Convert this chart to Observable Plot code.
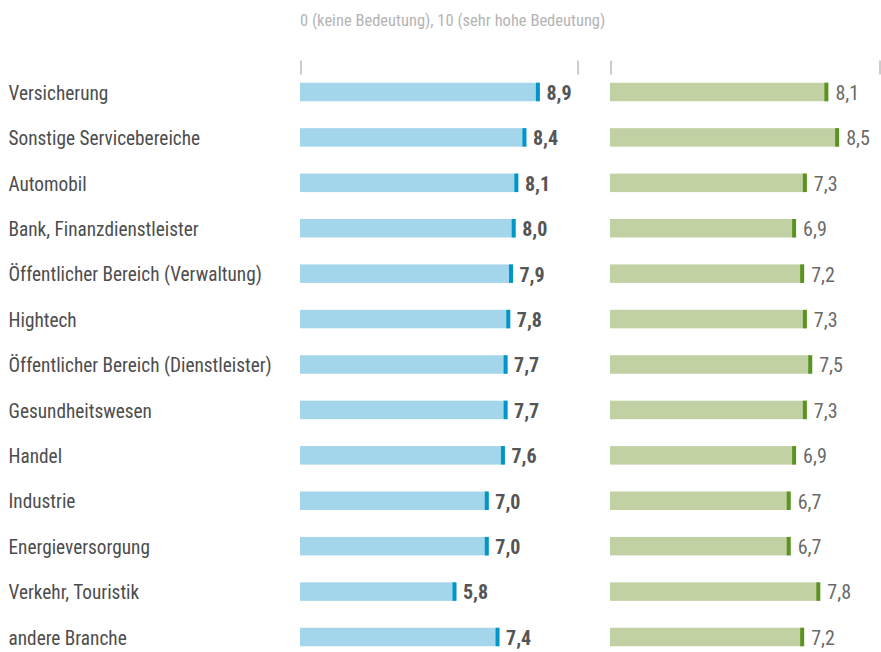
<!DOCTYPE html>
<html><head><meta charset="utf-8">
<script src="https://cdn.jsdelivr.net/npm/d3@7"></script>
<script src="https://cdn.jsdelivr.net/npm/@observablehq/plot@0.6"></script>
<style>
body{margin:0;background:#fff;font-family:"Liberation Sans Narrow","Roboto Condensed","DejaVu Sans Condensed",sans-serif;}
#header{position:relative;height:37px;}
#header span{position:absolute;left:300px;top:13px;font-size:16.5px;line-height:16px;color:#b4b4b4;white-space:nowrap;}
</style></head><body>
<div id="header"><span id="htext"></span></div>
<div id="chart"></div>
<script>
const headerText = "0 (keine Bedeutung), 10 (sehr hohe Bedeutung)";
const categories = ["Versicherung","Sonstige Servicebereiche","Automobil","Bank, Finanzdienstleister","Öffentlicher Bereich (Verwaltung)","Hightech","Öffentlicher Bereich (Dienstleister)","Gesundheitswesen","Handel","Industrie","Energieversorgung","Verkehr, Touristik","andere Branche"];
const leftValues = [8.9, 8.4, 8.1, 8.0, 7.9, 7.8, 7.7, 7.7, 7.6, 7.0, 7.0, 5.8, 7.4];
const rightValues = [8.1, 8.5, 7.3, 6.9, 7.2, 7.3, 7.5, 7.3, 6.9, 6.7, 6.7, 7.8, 7.2];
const panels = ["links", "rechts"];
const tickValuesLeft = [0, 10.3];
const tickValuesRight = [0, 10];

document.getElementById("htext").textContent = headerText;

const L = categories.map((c, i) => ({panel: "links", category: c, value: leftValues[i]}));
const R = categories.map((c, i) => ({panel: "rechts", category: c, value: rightValues[i]}));
const ticks = [...tickValuesLeft.map(v => ({panel: "links", v})), ...tickValuesRight.map(v => ({panel: "rechts", v}))];
const fmt = v => v.toFixed(1).replace(".", ",");
const font = '"Liberation Sans Narrow","Roboto Condensed","DejaVu Sans Condensed",sans-serif';

const plot = Plot.plot({
  width: 881, height: 615,
  marginLeft: 300, marginRight: 2, marginTop: 45.75, marginBottom: 5.75,
  style: {fontFamily: font, background: "#fff"},
  fx: {domain: panels, axis: null, paddingInner: 0.1323, paddingOuter: 0, round: false},
  x: {domain: [0, 10], axis: null},
  y: {domain: categories, axis: null, paddingInner: 0.593, paddingOuter: 0, round: false},
  marks: [
    Plot.barX(L, {fx: "panel", y: "category", x: "value", fill: "#a3d6ea"}),
    Plot.barX(R, {fx: "panel", y: "category", x: "value", fill: "#c1d1a3"}),
    Plot.tickX(L, {fx: "panel", y: "category", x: "value", stroke: "#0096c8", strokeWidth: 4, dx: -2}),
    Plot.tickX(R, {fx: "panel", y: "category", x: "value", stroke: "#5b9221", strokeWidth: 4, dx: -2}),
    Plot.text(L, {fx: "panel", y: "category", x: "value", text: d => fmt(d.value), textAnchor: "start", dx: 6.5, dy: 1, fontSize: 20, fontWeight: "bold", fill: "#555555"}),
    Plot.text(R, {fx: "panel", y: "category", x: "value", text: d => fmt(d.value), textAnchor: "start", dx: 7, dy: 1, fontSize: 20, fill: "#6a6a6a"}),
    Plot.text(L, {fx: "panel", y: "category", text: "category", frameAnchor: "left", dx: -292, dy: 1, textAnchor: "start", fontSize: 19.3, fill: "#4d4d4d"}),
    Plot.tickX(ticks, {fx: "panel", x: "v", y: () => categories[0], dy: -24.4, insetTop: 2.25, insetBottom: 2.25, stroke: "#cccccc", strokeWidth: 2, dx: 0.5})
  ]
});
document.getElementById("chart").appendChild(plot);
</script>
</body></html>
